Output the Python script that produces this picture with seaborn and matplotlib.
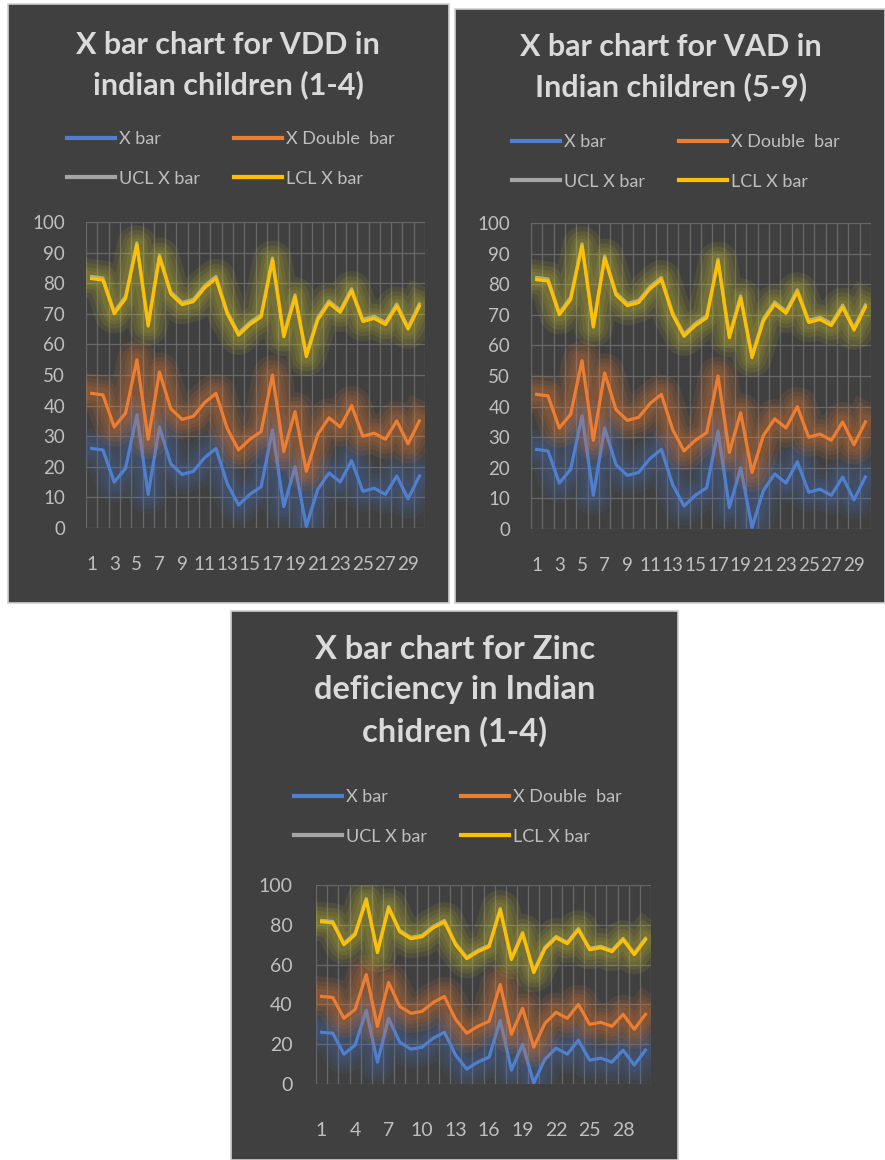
import numpy as np
import pandas as pd
import matplotlib
matplotlib.use("Agg")
import matplotlib.pyplot as plt
import matplotlib.patheffects as pe
from matplotlib.patches import Rectangle
from matplotlib.lines import Line2D
import seaborn as sns

plt.rcParams["font.family"] = ["Lato", "DejaVu Sans"]

# ---- data (sample number 1..30) ----
samples = list(range(1, 31))
x_bar = [26, 25.5, 15, 19.5, 37, 11, 33, 21, 17.5, 18.5, 23, 26, 14.5, 7.5, 11,
         13.5, 32, 7, 20, 0.5, 12.5, 18, 15, 22, 12, 13, 11, 17, 9.5, 17]
x_double_bar = [44, 43.5, 33, 37.5, 55, 29, 51, 39, 35.5, 36.5, 41, 44, 32.5, 25.5, 29,
                31.5, 50, 25, 38, 18.5, 30.5, 36, 33, 40, 30, 31, 29, 35, 27.5, 35]
ucl_x_bar = [82.2, 81.7, 70.7, 75.7, 93.2, 66.7, 89.2, 77.2, 73.7, 74.7, 79.2, 82.2, 70.7, 63.7, 67.2,
             69.7, 88.2, 63.2, 76.2, 56.7, 68.7, 74.2, 71.2, 78.2, 68.2, 69.2, 67.2, 73.2, 65.7, 73.2]
lcl_x_bar = [81.5, 81, 70, 75, 92.5, 66, 88.5, 76.5, 73, 74, 78.5, 81.5, 70, 63, 66.5,
             69, 87.5, 62.5, 75.5, 56, 68, 73.5, 70.5, 77.5, 67.5, 68.5, 66.5, 72.5, 65, 72.5]

series_names = ["X bar", "X Double  bar", "UCL X bar", "LCL X bar"]
series_values = [x_bar, x_double_bar, ucl_x_bar, lcl_x_bar]
series_colors = ["#4f80d0", "#ed7d31", "#a5a5a5", "#ffc000"]
glow_colors = ["#4472c4", "#ed7d31", "#a5a5a5", "#d0c828"]
glow_alpha = [0.09, 0.11, 0.0, 0.11]

chart_titles = [
    "X bar chart for VDD in\nindian children (1-4)",
    "X bar chart for VAD in\nIndian children (5-9)",
    "X bar chart for Zinc\ndeficiency in Indian\nchidren (1-4)",
]

long_df = pd.DataFrame({
    "sample": np.tile(samples, len(series_names)),
    "value": np.concatenate(series_values),
    "series": np.repeat(series_names, len(samples)),
})

W, H = 885, 1160
fig = plt.figure(figsize=(W / 100, H / 100), dpi=100, facecolor="white")

BG = "#404040"
TXT = "#bfbfbf"
TITLE = "#dadada"
GRID = "#686868"


def fig_box(x0, y0, x1, y1):
    """Pixel box (top-left origin) -> figure-fraction [left, bottom, width, height]."""
    return [x0 / W, 1 - y1 / H, (x1 - x0) / W, (y1 - y0) / H]


def draw_panel(panel, plot, title_xy, title_size, legend_xy, ystep, xticks,
               ypad, xpad, ticksize):
    l, b, w, h = fig_box(*panel)
    fig.patches.append(Rectangle((l, b), w, h, transform=fig.transFigure,
                                 facecolor=BG, edgecolor="#cfcfcf", lw=1.2, zorder=-5))
    tx, ty, title_text = title_xy
    fig.text(tx / W, 1 - ty / H, title_text, ha="center", va="center",
             color=TITLE, fontsize=title_size, fontweight="bold", linespacing=1.45)

    ax = fig.add_axes(fig_box(*plot))
    ax.set_facecolor("none")
    sns.lineplot(data=long_df, x="sample", y="value", hue="series",
                 hue_order=series_names, palette=series_colors,
                 linewidth=2.3, legend=False, ax=ax)
    for line, gc, ga in zip(ax.lines, glow_colors, glow_alpha):
        effects = []
        if ga > 0:
            for extra in (26, 19, 13, 8):
                effects.append(pe.Stroke(linewidth=2.3 + extra, foreground=gc, alpha=ga))
        effects.append(pe.Normal())
        line.set_path_effects(effects)
        line.set_solid_joinstyle("round")

    ax.set_xlim(0.5, 30.5)
    ax.set_ylim(0, 100)
    ax.set_yticks(np.arange(0, 101, ystep))
    ax.set_xticks(xticks)
    ax.set_xticks(np.arange(0.5, 31, 1), minor=True)
    ax.grid(axis="y", which="major", color=GRID, lw=0.9)
    ax.grid(axis="x", which="minor", color=GRID, lw=0.9)
    ax.set_axisbelow(True)
    for s in ax.spines.values():
        s.set_visible(False)
    ax.tick_params(axis="both", which="both", length=0, labelcolor=TXT, labelsize=ticksize)
    ax.tick_params(axis="y", pad=ypad)
    ax.tick_params(axis="x", pad=xpad)
    ax.set_xlabel("")
    ax.set_ylabel("")

    handles = [Line2D([], [], color=c, lw=3) for c in series_colors]
    order = [0, 2, 1, 3]
    ax.legend([handles[i] for i in order], [series_names[i] for i in order],
              loc="center", bbox_to_anchor=(legend_xy[0] / W, 1 - legend_xy[1] / H),
              bbox_transform=fig.transFigure, ncol=2, frameon=False,
              fontsize=13, labelcolor=TXT, handlelength=2.65, handletextpad=0.22,
              columnspacing=1.9, labelspacing=1.3)
    return ax


draw_panel(panel=(8, 4, 449, 603), plot=(86, 222, 425, 528),
           title_xy=(228, 65, chart_titles[0]), title_size=22,
           legend_xy=(231, 159), ystep=10, xticks=list(range(1, 31, 2)),
           ypad=15, xpad=20, ticksize=13.5)
draw_panel(panel=(455, 9, 885, 603), plot=(531, 223, 871, 529),
           title_xy=(671, 67, chart_titles[1]), title_size=22,
           legend_xy=(676, 162), ystep=10, xticks=list(range(1, 31, 2)),
           ypad=15, xpad=20, ticksize=13.5)
draw_panel(panel=(231, 611, 678, 1160), plot=(316, 885, 651, 1084),
           title_xy=(455, 691, chart_titles[2]), title_size=23.5,
           legend_xy=(458, 817), ystep=20, xticks=list(range(1, 31, 3)),
           ypad=17, xpad=27, ticksize=14)

fig.savefig("out.png", dpi=100, facecolor="white")
